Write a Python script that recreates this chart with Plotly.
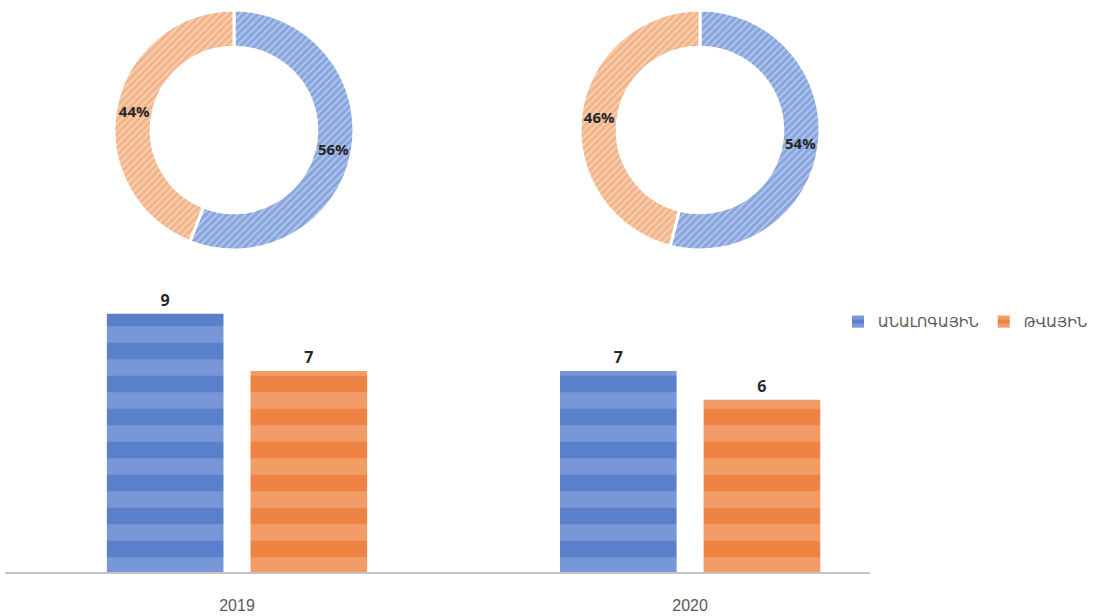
import plotly.graph_objects as go

years = ["2019", "2020"]
series_names = ["ԱՆԱԼՈԳԱՅԻՆ", "ԹՎԱՅԻՆ"]
analog_counts = [9, 7]
digital_counts = [7, 6]
share_2019 = [56, 44]
share_2020 = [54, 46]

blue = "#5a80cc"
blue_light = "#93aee0"
orange = "#ee8444"
orange_light = "#f6b68c"

fig = go.Figure()

# Bars
fig.add_trace(go.Bar(
    x=years, y=analog_counts, name=series_names[0],
    marker=dict(color=blue, line=dict(width=0),
                pattern=dict(shape="-", fgcolor=blue_light, bgcolor=blue, size=33, solidity=0.5)),
    text=analog_counts, textposition="outside", cliponaxis=False,
    textfont=dict(family="Open Sans", size=16, color="#262626", weight="bold"),
))
fig.add_trace(go.Bar(
    x=years, y=digital_counts, name=series_names[1],
    marker=dict(color=orange, line=dict(width=0),
                pattern=dict(shape="-", fgcolor=orange_light, bgcolor=orange, size=33, solidity=0.5)),
    text=digital_counts, textposition="outside", cliponaxis=False,
    textfont=dict(family="Open Sans", size=16, color="#262626", weight="bold"),
))

# Donuts
def donut(vals, dom_x, dom_y):
    return go.Pie(
        values=vals, labels=series_names, sort=False, direction="clockwise", rotation=0,
        hole=0.69, showlegend=False,
        marker=dict(colors=["#88a5dd", "#f2b488"], line=dict(color="white", width=3),
                    pattern=dict(shape="/", bgcolor=["#88a5dd", "#f2b488"],
                                 fgcolor=["#b5c7ec", "#f8d2b6"], size=5, solidity=0.35)),
        texttemplate="%{value}%", textposition="inside", insidetextorientation="horizontal",
        textfont=dict(family="Open Sans", size=15, color="#262626", weight="bold"),
        domain=dict(x=dom_x, y=dom_y),
    )

fig.add_trace(donut(share_2019, [114/1100, 354/1100], [1-250/616, 1-10/616]))
fig.add_trace(donut(share_2020, [580/1100, 820/1100], [1-250/616, 1-10/616]))

fig.update_layout(
    width=1100, height=616,
    margin=dict(l=0, r=0, t=0, b=0),
    paper_bgcolor="white", plot_bgcolor="white",
    barmode="group", bargap=0.366, bargroupgap=0.188,
    xaxis=dict(domain=[5/1100, 870/1100], range=[-0.512, 1.397], type="category",
               showline=True, linecolor="#c4c4c4", linewidth=2, showgrid=False,
               ticks="", tickfont=dict(family="Liberation Sans Narrow, Arial", size=16, color="#595959"),
               ticklabelstandoff=18),
    yaxis=dict(domain=[1-572/616, 1-285/616], range=[0, 10], visible=False),
    legend=dict(orientation="h", x=838/1100, y=1-322/616, xanchor="left", yanchor="middle",
                font=dict(family="DejaVu Sans", size=14, color="#595959"),
                itemwidth=30, tracegroupgap=0, itemsizing="constant"),
)

fig.write_html("out.html", post_script="document.body.style.margin='0';",
               config={"displayModeBar": False})
